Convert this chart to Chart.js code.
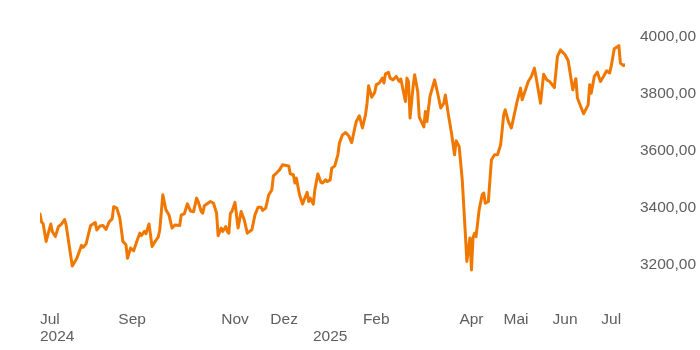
<!DOCTYPE html>
<html>
<head>
<meta charset="utf-8">
<script src="https://cdn.jsdelivr.net/npm/chart.js@4/dist/chart.umd.min.js"></script>
<style>
  html, body { margin: 0; padding: 0; background: #fff; }
  canvas { display: block; }
</style>
</head>
<body>
<canvas id="chart" width="700" height="350"></canvas>
<script>
// Tage seit Start der Reihe (24.06.2024)
const dayIndex = [0,1,2,4,7,8,10,12,14,16,17,21,24,25,27,28,30,32,33,36,37,39,41,43,45,47,48,50,52,54,56,57,59,61,63,65,66,68,69,71,73,75,77,78,80,82,84,86,88,91,92,94,96,98,100,102,103,105,106,107,111,113,115,116,118,119,121,122,123,124,125,127,129,131,133,135,138,140,142,144,145,147,149,151,152,154,156,158,162,163,165,166,167,169,171,172,174,175,176,178,179,181,183,184,186,187,189,190,192,194,195,197,199,201,203,205,206,208,210,212,213,214,216,218,219,221,223,224,225,227,228,230,232,234,235,238,239,240,241,243,244,246,247,250,251,252,254,257,259,261,263,264,266,268,270,271,273,275,277,278,280,281,282,283,284,286,288,289,290,292,294,296,298,300,302,303,305,307,309,311,313,314,316,318,320,322,323,326,328,330,332,335,337,339,342,344,347,349,350,354,357,358,359,361,363,365,367,369,371,372,374,377,378,380,381];

const kurs = [3378,3350,3345,3282,3343,3317,3299,3334,3343,3359,3340,3196,3223,3238,3268,3261,3273,3317,3338,3348,3322,3336,3338,3324,3350,3361,3404,3399,3364,3282,3270,3223,3259,3249,3282,3311,3302,3317,3309,3343,3264,3282,3297,3323,3446,3393,3375,3329,3340,3338,3375,3379,3414,3389,3386,3434,3422,3387,3381,3407,3422,3416,3381,3302,3329,3317,3334,3317,3311,3381,3387,3419,3329,3387,3358,3311,3323,3375,3402,3402,3391,3399,3446,3463,3512,3522,3533,3551,3547,3519,3516,3487,3504,3446,3413,3428,3454,3422,3434,3413,3463,3519,3489,3487,3498,3492,3498,3539,3547,3586,3627,3656,3664,3653,3629,3680,3703,3723,3680,3726,3767,3828,3788,3805,3832,3838,3855,3838,3870,3875,3855,3849,3861,3843,3852,3773,3855,3843,3715,3826,3867,3808,3718,3684,3738,3703,3791,3849,3802,3750,3767,3796,3726,3662,3586,3635,3615,3498,3311,3212,3294,3182,3294,3311,3299,3393,3446,3452,3416,3422,3568,3586,3586,3621,3726,3744,3703,3680,3730,3779,3820,3779,3811,3843,3861,3890,3861,3767,3869,3849,3843,3822,3931,3954,3937,3916,3814,3853,3785,3730,3761,3832,3802,3861,3876,3843,3861,3881,3873,3896,3958,3969,3908,3899,3902];

const tickDays = [0, 60, 127, 159, 189, 219, 281, 310, 342, 372, 381];
const tickLabels = [['Jul', '2024'], 'Sep', 'Nov', 'Dez', ['', '2025'], 'Feb', 'Apr', 'Mai', 'Jun', 'Jul', ''];
const yTicks = [3200, 3400, 3600, 3800, 4000];

const textColor = '#5e5e5e';
const tickFont = { family: '"Liberation Sans", Arial, sans-serif', size: 15.5, lineHeight: 1.05 };

new Chart(document.getElementById('chart'), {
  type: 'line',
  data: {
    datasets: [{
      data: dayIndex.map((d, i) => ({ x: d, y: kurs[i] })),
      borderColor: '#f07800',
      borderWidth: 3,
      borderJoinStyle: 'round',
      borderCapStyle: 'round',
      pointRadius: 0,
      tension: 0,
      fill: false
    }]
  },
  options: {
    responsive: false,
    animation: false,
    layout: { padding: { left: 40, right: 0, top: 14, bottom: 5 } },
    plugins: { legend: { display: false }, tooltip: { enabled: false } },
    scales: {
      x: {
        type: 'linear',
        min: 0,
        max: 381,
        grid: { display: false, drawTicks: false },
        border: { display: false },
        afterBuildTicks: (scale) => { scale.ticks = tickDays.map(v => ({ value: v })); },
        afterFit: (scale) => { scale.paddingLeft = 0; scale.paddingRight = 0; scale.height = 46; },
        ticks: {
          autoSkip: false,
          maxRotation: 0,
          align: 'inner',
          padding: 13,
          color: textColor,
          font: tickFont,
          callback: (value, index) => tickLabels[index]
        }
      },
      y: {
        position: 'right',
        min: 3080,
        max: 4080,
        grid: { display: false, drawTicks: false },
        border: { display: false },
        afterBuildTicks: (scale) => { scale.ticks = yTicks.map(v => ({ value: v })); },
        afterFit: (scale) => { scale.paddingTop = 0; scale.paddingBottom = 0; scale.width = 75; },
        ticks: {
          padding: 15,
          color: textColor,
          font: tickFont,
          callback: (v) => v.toFixed(2).replace('.', ',')
        }
      }
    }
  }
});
</script>
</body>
</html>
